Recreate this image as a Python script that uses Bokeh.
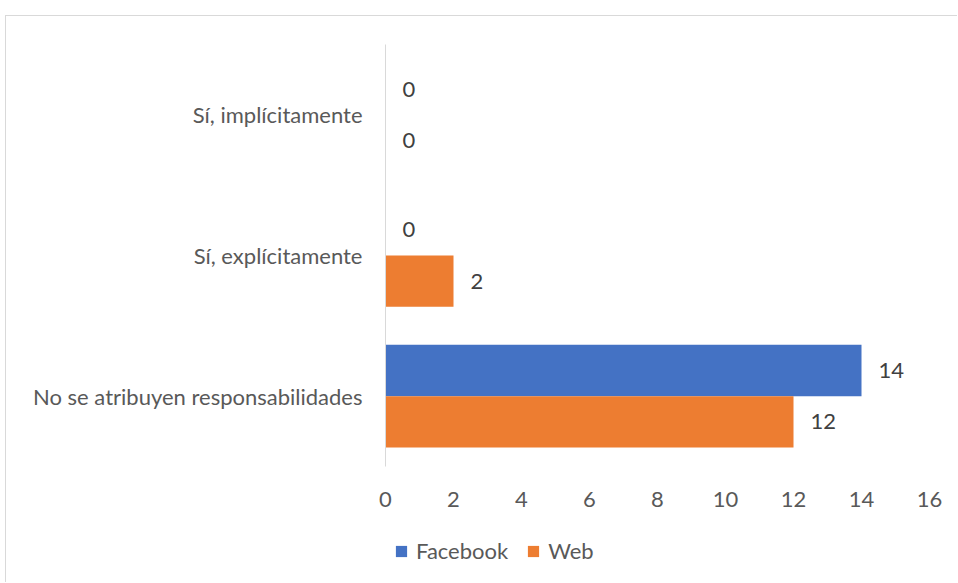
from bokeh.plotting import figure
from bokeh.models import ColumnDataSource, Range1d, Legend, LegendItem, FixedTicker
from bokeh.transform import dodge
from bokeh.core.properties import value
from bokeh.embed import file_html
from bokeh.resources import INLINE

categories = ["No se atribuyen responsabilidades", "Sí, explícitamente", "Sí, implícitamente"]
facebook = [14, 0, 0]
web = [12, 2, 0]
x_ticks = [0, 2, 4, 6, 8, 10, 12, 14, 16]

FONT = "Lato"
FS = "22px"
BLUE = "#4472C4"
ORANGE = "#ED7D31"

pos = list(range(len(categories)))
src = ColumnDataSource(dict(pos=pos, facebook=facebook, web=web,
                            fb_lbl=[str(v) for v in facebook], web_lbl=[str(v) for v in web]))

# layout (pixels, on the page)
CAN_L, CAN_T, CAN_R, CAN_B = 6, 16, 958, 583
X0_PX, X_UNIT = 385, 34.0          # screen x of value 0, px per unit
Y_TOP_PX, Y_BOT_PX = 44, 466       # extent of category bands
band_px = (Y_BOT_PX - Y_TOP_PX) / len(categories)

x_start = -(X0_PX - CAN_L) / X_UNIT
x_end = (CAN_R - X0_PX) / X_UNIT
y_end = len(categories) - 0.5 + (Y_TOP_PX - CAN_T) / band_px
y_start = -0.5 - (CAN_B - Y_BOT_PX) / band_px

p = figure(width=CAN_R - CAN_L, height=CAN_B - CAN_T, output_backend="svg",
           toolbar_location=None,
           x_range=Range1d(x_start, x_end), y_range=Range1d(y_start, y_end))
p.styles = {"border-top": "1px solid #d9d9d9", "border-left": "1px solid #d9d9d9",
            "margin-left": "5px", "margin-top": "15px"}
p.min_border = 0
p.outline_line_color = None
p.xgrid.grid_line_color = None
p.ygrid.grid_line_color = None
p.background_fill_color = "white"
p.border_fill_color = "white"

bh = 0.365
off = 0.1825
r_fb = p.hbar(y=dodge("pos", off), right="facebook", left=0, height=bh,
              source=src, color=BLUE, line_color=None)
r_web = p.hbar(y=dodge("pos", -off), right="web", left=0, height=bh,
               source=src, color=ORANGE, line_color=None)

p.text(x="facebook", y=dodge("pos", off), text="fb_lbl", source=src,
       x_offset=17, text_align="left", text_baseline="middle", text_font=value(FONT),
       text_font_size=FS, text_color="#404040")
p.text(x="web", y=dodge("pos", -off), text="web_lbl", source=src,
       x_offset=17, text_align="left", text_baseline="middle", text_font=value(FONT),
       text_font_size=FS, text_color="#404040")

xa = p.xaxis[0]
xa.ticker = FixedTicker(ticks=x_ticks)
xa.fixed_location = -0.5
xa.axis_line_color = None
xa.major_tick_line_color = None
xa.major_tick_out = 0
xa.major_tick_in = 0
xa.minor_tick_line_color = None
xa.major_label_standoff = 25
xa.major_label_text_font = FONT
xa.major_label_text_font_size = FS
xa.major_label_text_color = "#595959"

ya = p.yaxis[0]
ya.ticker = FixedTicker(ticks=pos)
ya.major_label_overrides = {i: c for i, c in zip(pos, categories)}
ya.fixed_location = 0
ya.bounds = (-0.5, len(categories) - 0.5)
ya.axis_line_color = "#d9d9d9"
ya.axis_line_width = 1
ya.major_tick_line_color = None
ya.major_tick_out = 0
ya.major_tick_in = 0
ya.minor_tick_line_color = None
ya.major_label_standoff = 23
ya.major_label_text_font = FONT
ya.major_label_text_font_size = FS
ya.major_label_text_color = "#595959"

legend = Legend(items=[LegendItem(label="Facebook", renderers=[r_fb]),
                       LegendItem(label="Web", renderers=[r_web])],
                orientation="horizontal", location=(388, 19),
                label_text_font=FONT, label_text_font_size=FS, label_text_color="#595959",
                glyph_width=14, glyph_height=14, spacing=18, label_standoff=8,
                border_line_color=None, background_fill_alpha=0, padding=4, margin=0)
p.add_layout(legend, "center")

open("out.html", "w").write(file_html(p, INLINE))
